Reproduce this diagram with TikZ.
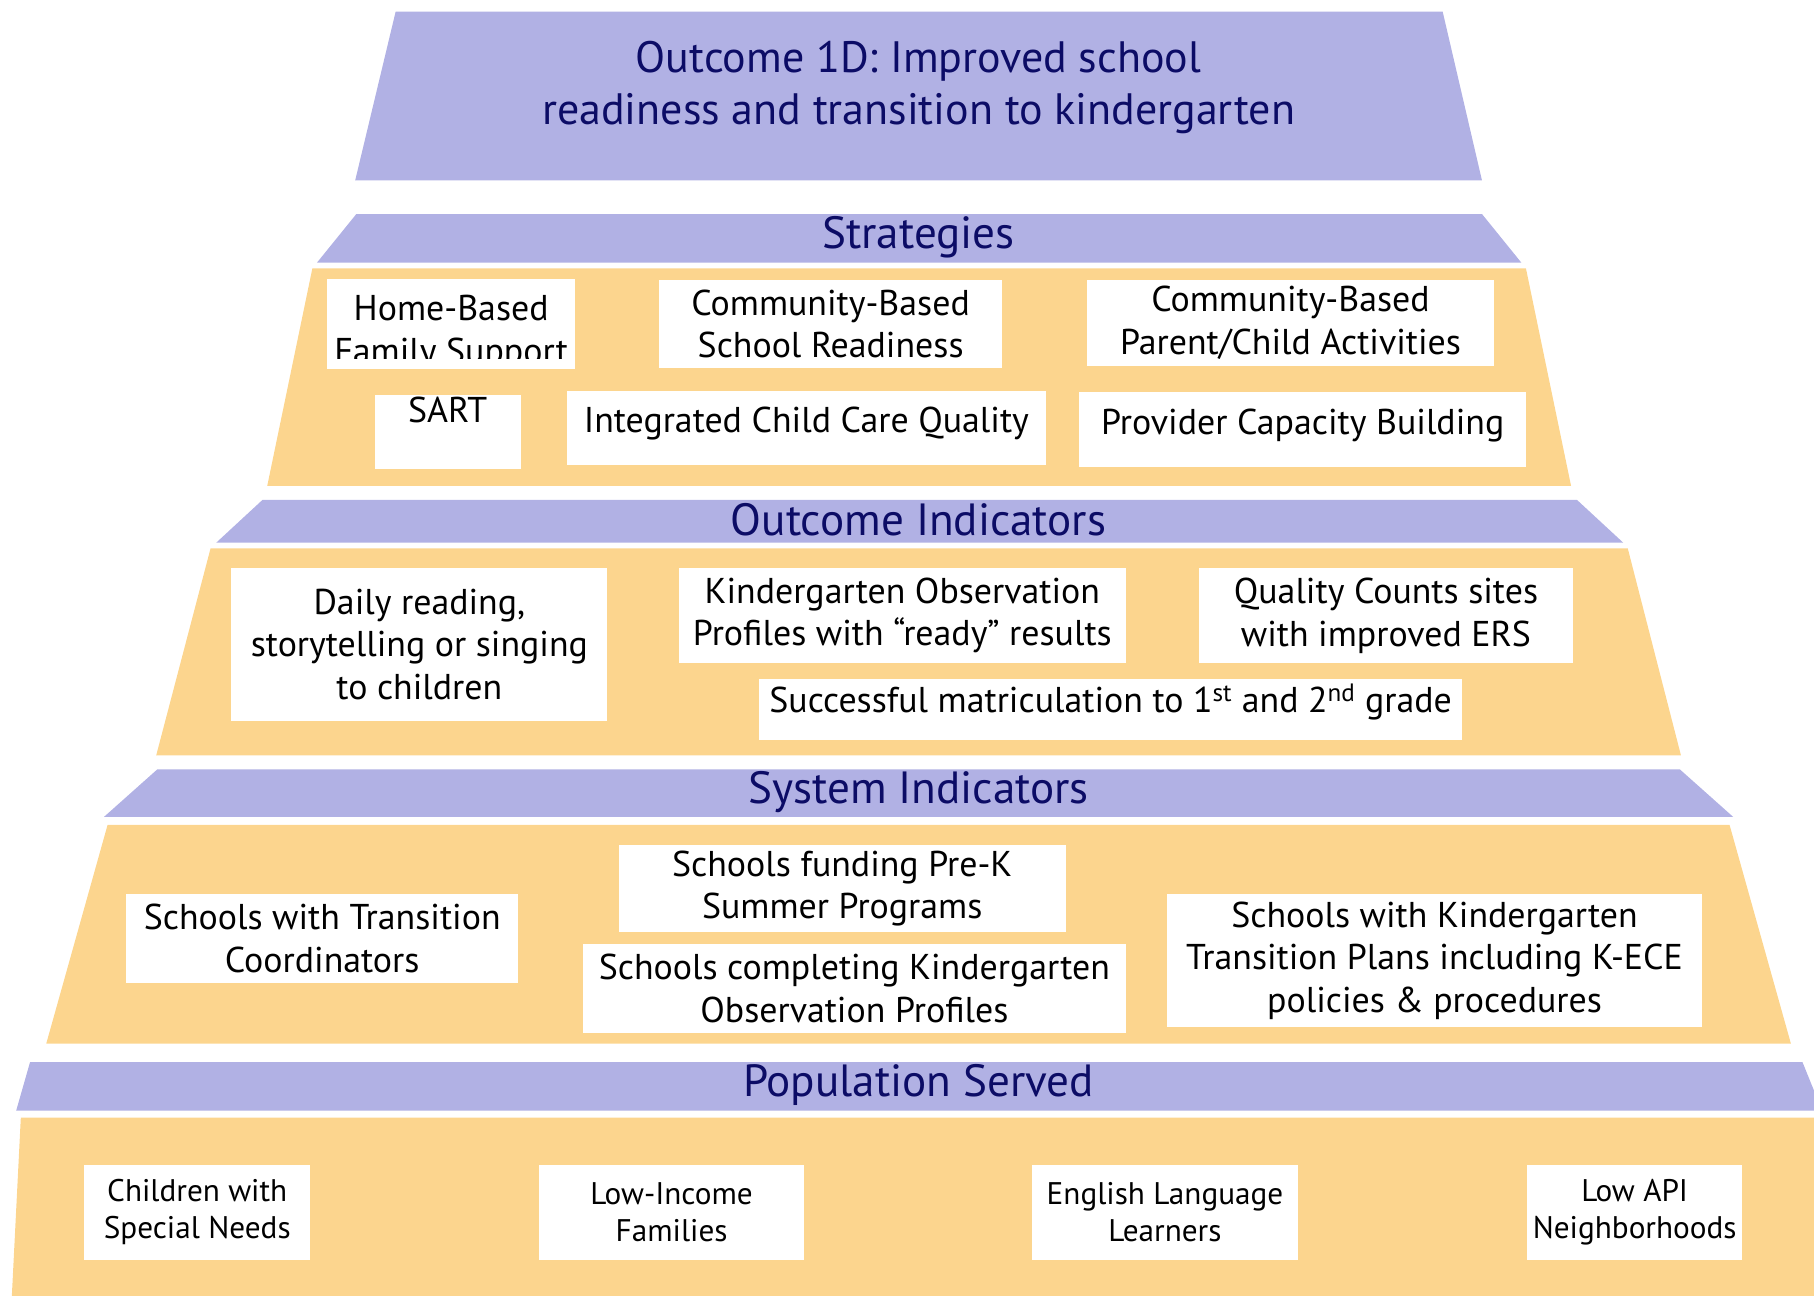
\documentclass[tikz,border=0pt]{standalone}
\usepackage{fontspec}
\setmainfont{PT Sans}
\usepackage{tikz}
\usetikzlibrary{positioning}
\definecolor{band}{RGB}{177,177,228}
\definecolor{tier}{RGB}{252,213,142}
\definecolor{navy}{RGB}{12,12,102}

\begin{document}
\begin{tikzpicture}[x=1pt,y=-1pt]
  \tikzstyle{head}=[text=navy,align=center,font=\fontsize{39}{45}\selectfont]
  \tikzstyle{item}=[fill=white,align=center,inner sep=0pt,font=\fontsize{31}{37}\selectfont]
  \tikzstyle{pop}=[item,font=\fontsize{27}{32}\selectfont]
  \useasboundingbox (0,0) rectangle (1568,1120);

  % pyramid
  \fill[band] (342,10) -- (1247,10) -- (1281,156) -- (307,156) -- cycle;
  \fill[band] (308,185) -- (1281,185) -- (1315,227) -- (274,227) -- cycle;
  \fill[tier] (270,232) -- (1319,232) -- (1358,420) -- (231,420) -- cycle;
  \fill[band] (227,432) -- (1363,432) -- (1403,469) -- (187,469) -- cycle;
  \fill[tier] (182,474) -- (1407,474) -- (1453,653) -- (135,653) -- cycle;
  \fill[band] (136,665) -- (1452,665) -- (1498,706) -- (90,706) -- cycle;
  \fill[tier] (93,713) -- (1495,713) -- (1548,902) -- (40,902) -- cycle;
  \fill[band] (26,918) -- (1558,918) -- (1575,960) -- (14,960) -- cycle;
  \fill[tier] (18,966) -- (1575,966) -- (1575,1125) -- (10,1125) -- cycle;

  \node[head,font=\fontsize{38}{45}\selectfont] (outcome) at (794,76) {Outcome 1D: Improved school\\readiness and transition to kindergarten};
  \node[head] (strat)   at (794,205) {Strategies};
  \node[head] (oind)    at (794,449) {Outcome Indicators};
  \node[head] (sind)    at (794,685) {System Indicators};
  \node[head] (popserv) at (794,938) {Population Served};

  % strategies
  \node[item,minimum width=214pt,minimum height=78pt] (home) at (390,280) {};
  \begin{scope}
    \clip (283,241) rectangle (497,310);
    \node[item,fill=none] (homelbl) at (390,288) {Home-Based\\Family Support};
  \end{scope}
  \node[item,minimum width=296pt,minimum height=76pt] (csr)  at (718,280)   {Community-Based\\School Readiness};
  \node[item,minimum width=351pt,minimum height=74pt] (cpa)  at (1115.5,279) {Community-Based\\Parent/Child Activities};
  \node[item,minimum width=126pt,minimum height=64pt] (sart) at (387,373)   {SART\\~};
  \node[item,minimum width=414pt,minimum height=64pt,text depth=14pt] (iccq) at (697,370) {Integrated Child Care Quality};
  \node[item,minimum width=386pt,minimum height=65pt,text depth=14pt] (pcb)  at (1126,371.5) {Provider Capacity Building};

  % outcome indicators
  \node[item,minimum width=325pt,minimum height=132pt] (daily) at (362.5,557) {Daily reading,\\storytelling or singing\\to children};
  \node[item,minimum width=386pt,minimum height=82pt]  (kop)   at (780,532)   {Kindergarten Observation\\Profiles with ``ready'' results};
  \node[item,minimum width=324pt,minimum height=82pt]  (qcs)   at (1198,532)  {Quality Counts sites\\with improved ERS};
  \node[item,minimum width=608pt,minimum height=53pt,text depth=20pt] (smat) at (960,613.5) {Successful matriculation to 1\textsuperscript{st} and 2\textsuperscript{nd} grade};

  % system indicators
  \node[item,minimum width=339pt,minimum height=77pt]  (stc) at (278.5,811.5) {Schools with Transition\\Coordinators};
  \node[item,minimum width=386pt,minimum height=76pt]  (sfp) at (728,768)     {Schools funding Pre-K\\Summer Programs};
  \node[item,minimum width=469pt,minimum height=77pt]  (sck) at (738.5,854.5) {Schools completing Kindergarten\\Observation Profiles};
  \node[item,minimum width=462pt,minimum height=115pt] (skt) at (1240,830.5)  {Schools with Kindergarten\\Transition Plans including K-ECE\\policies \& procedures};

  % population served
  \node[pop,minimum width=195pt,minimum height=82pt] (csn) at (170.5,1048) {Children with\\Special Needs};
  \node[pop,minimum width=229pt,minimum height=82pt] (lif) at (580.5,1048) {Low-Income\\Families};
  \node[pop,minimum width=230pt,minimum height=82pt] (ell) at (1007,1048)  {English Language\\Learners};
  \node[pop,minimum width=186pt,minimum height=82pt] (lan) at (1413,1048)  {Low API\\Neighborhoods};
\end{tikzpicture}
\end{document}
